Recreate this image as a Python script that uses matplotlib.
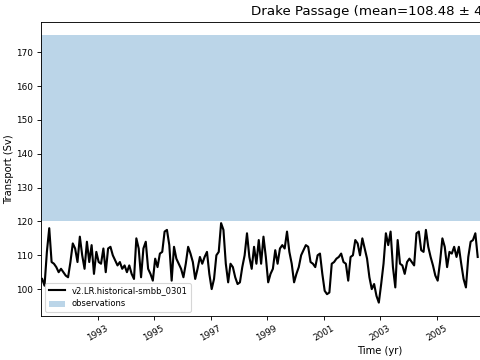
import numpy as np
import matplotlib
matplotlib.use("Agg")
import matplotlib.pyplot as plt

start_year = 1991
transport = [
    103, 101, 111, 118, 108, 107.5, 106.5, 105, 106, 105, 104, 103.5, 108, 113.5, 112,
    108, 115.5, 110, 106, 114, 108, 113, 104.5, 111, 108, 107.5, 112, 105, 112,
    112.5, 110, 108.5, 107, 108, 106, 107, 105, 107, 104.5, 103, 115, 112, 103.5, 112,
    114, 106, 104.5, 102.5, 109, 106.5, 110.5, 111, 117, 117.5, 113, 102.5, 112.5, 109,
    107.5, 106,
    103.5, 107.5, 112.5, 110.5, 108, 103, 106, 109.5, 107.5, 109.5, 111, 104.5, 100, 103,
    110, 111, 119.5, 117.5, 107.5, 102, 107.5, 106.5, 103.5, 101.5, 102, 106.5, 110,
    116.5, 109.5, 106,
    112.5, 107.5, 114.5, 107.5, 115.5, 109.5, 102, 104.5, 106, 111.5, 107.5, 112, 113,
    112, 117, 111, 107.5, 102, 104.5, 106.5, 110, 111.5, 113, 112.5, 108, 107.5, 106.5,
    110, 110.5, 104.5, 99.5,
    98.5, 99, 107.5, 108, 109, 109.5, 110.5, 108, 107.5, 102.5, 109.5, 110, 114.5, 113.5,
    110, 115, 112, 109, 103.5, 100, 101.5, 98, 96, 101.5, 107.5, 116.5, 113, 117, 106.5,
    100.5,
    114.5, 107.5, 107, 104.5, 108, 109, 108, 107, 116.5, 117, 111.5, 111, 117.5, 112.5,
    109.5, 107, 104, 102.5, 108, 115, 112.5, 106.5, 111, 110.5, 112.5, 109.5, 112.5,
    107.5, 103, 100.5, 109.5, 114, 114.5, 116.5, 109.5,
]
obs_range = [120, 175]
tick_years = [1993, 1995, 1997, 1999, 2001, 2003, 2005, 2007, 2009, 2011, 2013]
run_name = "v2.LR.historical-smbb_0301"
title = "Drake Passage (mean=108.48 \u00b1 4.29)"

years = start_year + (np.arange(len(transport)) + 0.5) / 12.0

fig = plt.figure(figsize=(6.0, 4.5), dpi=80)
ax = fig.add_axes([41 / 480, 1 - 316 / 360, 678 / 480, 294 / 360])

ax.plot(years, transport, color="black", lw=1.9, label=run_name)
ax.axhspan(obs_range[0], obs_range[1], color="tab:blue", alpha=0.3, lw=0,
           label="observations")

ax.set_xlim(1991, 2015)
ax.set_ylim(92.05, 178.95)
ax.set_xticks(tick_years)
ax.set_xticklabels([str(y) for y in tick_years], rotation=30, fontsize=8)
ax.set_yticks(np.arange(100, 171, 10))
ax.tick_params(axis="y", labelsize=8)
ax.set_xlabel("Time (yr)", fontsize=9, labelpad=3)
ax.set_ylabel("Transport (Sv)", fontsize=9, labelpad=2)
ax.set_title(title, fontsize=12)
ax.legend(loc="lower left", fontsize=7.5)

fig.savefig("out.png", dpi=80)
